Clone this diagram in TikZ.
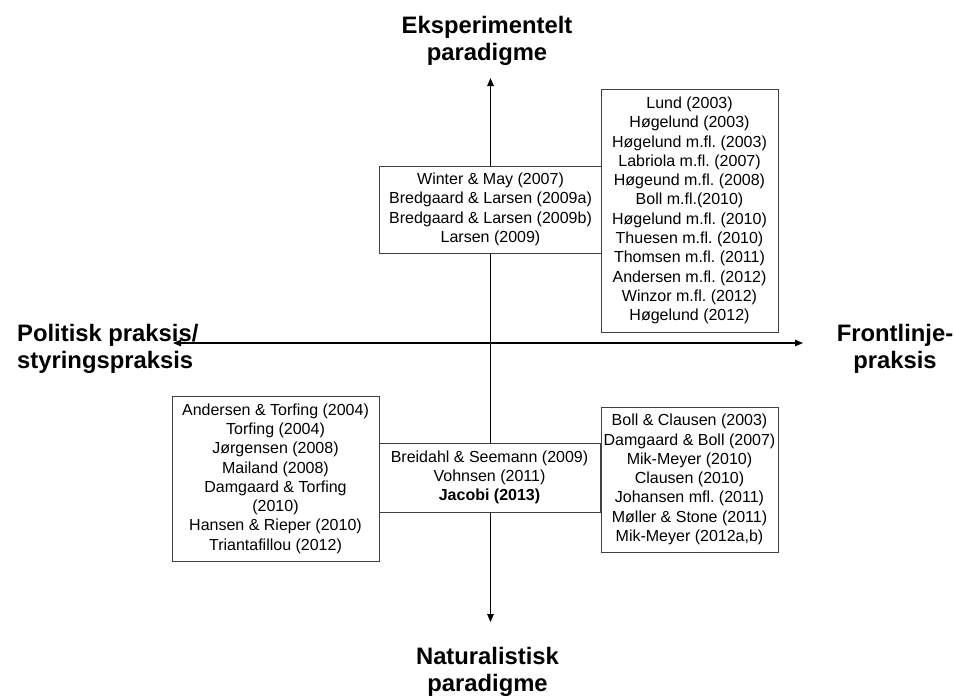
\documentclass[tikz,border=0pt]{standalone}
\usepackage{fontspec}
\setmainfont{Liberation Sans}
\usetikzlibrary{arrows.meta}
\frenchspacing
\begin{document}
\begin{tikzpicture}[x=1pt,y=-1pt,
  axis/.style={line width=1.1pt,
    {Triangle[length=8pt,width=6.5pt]}-{Triangle[length=8pt,width=6.5pt]}},
  refbox/.style={draw=black!75, line width=0.9pt, fill=white, inner sep=0pt,
    align=center, font=\fontsize{16}{19.3}\selectfont},
  heading/.style={inner sep=0pt, align=center,
    font=\fontsize{23.8}{27}\selectfont\bfseries}]
\useasboundingbox (0,0) rectangle (955,697);

% axis end points
\coordinate (up)    at (490.5,78);
\coordinate (down)  at (490.5,622);
\coordinate (left)  at (173,343);
\coordinate (right) at (803,343);

% the two axes
\draw[axis] (left) -- (right);
\draw[axis] (down) -- (up);

% axis labels
\node[heading, anchor=north] (exp) at (487,16) {Eksperimentelt\\paradigme};
\node[heading, anchor=north] (nat) at (487.5,647) {Naturalistisk\\paradigme};
\node[heading, anchor=north west, align=left] (pol) at (17,324) {Politisk praksis/\\styringspraksis};
\node[heading, anchor=north] (front) at (895,324) {Frontlinje-\\praksis};

% literature boxes
\node[refbox, minimum width=223pt, minimum height=87pt] (tc) at (490.5,209.5)
  {Winter \& May (2007)\\Bredgaard \& Larsen (2009a)\\Bredgaard \& Larsen (2009b)\\Larsen (2009)};

\node[refbox, minimum width=177pt, minimum height=243pt] (tr) at (689.5,210.5)
  {Lund (2003)\\Høgelund (2003)\\Høgelund m.fl. (2003)\\Labriola m.fl. (2007)\\Høgeund m.fl. (2008)\\Boll m.fl.(2010)\\Høgelund m.fl. (2010)\\Thuesen m.fl. (2010)\\Thomsen m.fl. (2011)\\Andersen m.fl. (2012)\\Winzor m.fl. (2012)\\Høgelund (2012)};

\node[refbox, minimum width=207pt, minimum height=165pt] (bl) at (275.5,478.5)
  {Andersen \& Torfing (2004)\\Torfing (2004)\\Jørgensen (2008)\\Mailand (2008)\\Damgaard \& Torfing\\(2010)\\Hansen \& Rieper (2010)\\Triantafillou (2012)};

\node[refbox, minimum width=221pt, minimum height=69pt] (bc) at (489.5,477.5)
  {Breidahl \& Seemann (2009)\\Vohnsen (2011)\\\textbf{Jacobi (2013)}};

\node[refbox, minimum width=177pt, minimum height=145pt] (br) at (689.5,479.5)
  {Boll \& Clausen (2003)\\Damgaard \& Boll (2007)\\Mik-Meyer (2010)\\Clausen (2010)\\Johansen mfl. (2011)\\Møller \& Stone (2011)\\Mik-Meyer (2012a,b)};
\end{tikzpicture}
\end{document}
